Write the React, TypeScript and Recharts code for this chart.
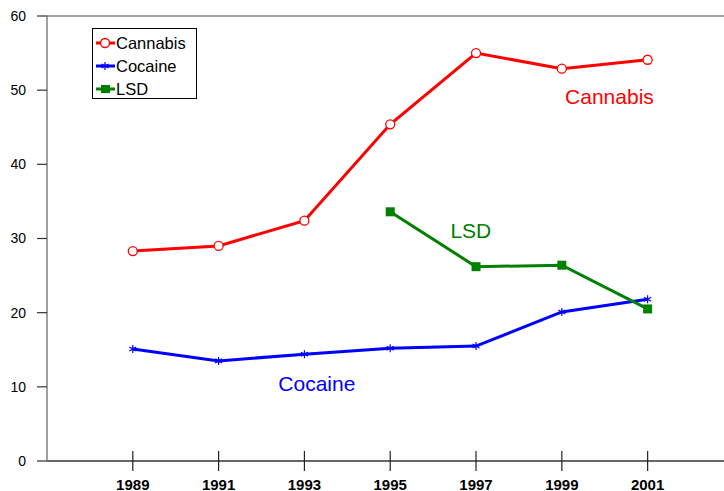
import { LineChart, Line, XAxis, YAxis, ReferenceLine, ReferenceDot, Legend } from "recharts";

const years = [1989, 1991, 1993, 1995, 1997, 1999, 2001];
const cannabis = [28.3, 29.0, 32.4, 45.4, 55.0, 52.9, 54.1];
const cocaine = [15.1, 13.5, 14.4, 15.2, 15.5, 20.1, 21.8];
const lsd: (number | null)[] = [null, null, null, 33.6, 26.2, 26.4, 20.5];
const yTicks = [0, 10, 20, 30, 40, 50, 60];

const data = years.map((year, i) => ({
  year,
  cannabis: cannabis[i],
  cocaine: cocaine[i],
  lsd: lsd[i],
}));

const RED = "#ff0000";
const BLUE = "#0000ff";
const GREEN = "#008000";
const FONT = "'Liberation Sans', Arial, sans-serif";

function CircleDot(props: any) {
  const { cx, cy } = props;
  if (cx == null || cy == null) return null;
  return <circle cx={cx} cy={cy} r={4.5} fill="#fff" stroke={RED} strokeWidth={1.3} />;
}

function StarDot(props: any) {
  const { cx, cy } = props;
  if (cx == null || cy == null) return null;
  const r = 4;
  return (
    <g stroke={BLUE} strokeWidth={1.2}>
      <line x1={cx} y1={cy - r} x2={cx} y2={cy + r} />
      <line x1={cx - r * 0.87} y1={cy - r / 2} x2={cx + r * 0.87} y2={cy + r / 2} />
      <line x1={cx - r * 0.87} y1={cy + r / 2} x2={cx + r * 0.87} y2={cy - r / 2} />
    </g>
  );
}

function SquareDot(props: any) {
  const { cx, cy } = props;
  if (cx == null || cy == null) return null;
  return <rect x={cx - 4.5} y={cy - 4.5} width={9} height={9} fill={GREEN} />;
}

function XTick(props: any) {
  const { x, y, payload } = props;
  return (
    <g>
      <line x1={x} x2={x} y1={y - 10} y2={y + 10} stroke="#222" strokeWidth={1.2} />
      <text x={x} y={y + 28.5} textAnchor="middle" fontWeight="bold" fontSize={15} fill="#000" fontFamily={FONT}>
        {payload.value}
      </text>
    </g>
  );
}

const legendItems = [
  { name: "Cannabis", color: RED, kind: "circle" },
  { name: "Cocaine", color: BLUE, kind: "star" },
  { name: "LSD", color: GREEN, kind: "square" },
];

function LegendBox() {
  return (
    <div
      style={{
        border: "1px solid #000",
        width: 105,
        height: 71,
        boxSizing: "border-box",
        background: "#fff",
        fontFamily: FONT,
        fontSize: 16.5,
        paddingTop: 2,
      }}
    >
      {legendItems.map((it) => (
        <div key={it.name} style={{ display: "flex", alignItems: "center", height: 23 }}>
          <svg width={22} height={12} style={{ marginLeft: 1 }}>
            <line x1={2} x2={21} y1={6} y2={6} stroke={it.color} strokeWidth={3} />
            {it.kind === "circle" && <circle cx={11} cy={6} r={4.5} fill="#fff" stroke={it.color} strokeWidth={1.3} />}
            {it.kind === "star" && (
              <g stroke={it.color} strokeWidth={1.2}>
                <line x1={11} y1={2} x2={11} y2={10} />
                <line x1={7.5} y1={4} x2={14.5} y2={8} />
                <line x1={7.5} y1={8} x2={14.5} y2={4} />
              </g>
            )}
            {it.kind === "square" && <rect x={7} y={2} width={9} height={8} fill={it.color} />}
          </svg>
          <span style={{ color: "#000", lineHeight: "16px" }}>{it.name}</span>
        </div>
      ))}
    </div>
  );
}

export default function App() {
  return (
    <div style={{ position: "absolute", left: 0, top: 0, width: 724, height: 491, overflow: "hidden", background: "#fff", fontFamily: FONT }}>
      <LineChart width={724} height={491} data={data} margin={{ top: 16, right: 0, left: 0, bottom: 0 }}>
        <XAxis
          dataKey="year"
          type="number"
          domain={[1987, 2002.78]}
          ticks={years}
          allowDataOverflow
          height={30}
          tickSize={0}
          tickMargin={0}
          tickLine={false}
          tick={<XTick />}
          axisLine={{ stroke: "#333", strokeWidth: 1.3 }}
        />
        <YAxis
          domain={[0, 60]}
          ticks={yTicks}
          width={47}
          tickSize={10}
          tickMargin={11}
          tick={{ fill: "#000", fontSize: 14, fontFamily: FONT }}
          tickLine={{ stroke: "#333", strokeWidth: 1.2 }}
          axisLine={{ stroke: "#808080", strokeWidth: 1.5 }}
        />
        <ReferenceLine y={60} stroke="#808080" strokeWidth={1.5} />
        <Legend
          layout="vertical"
          align="center"
          verticalAlign="middle"
          wrapperStyle={{ position: "absolute", left: 92, top: 28, width: 105, height: 71 }}
          content={() => <LegendBox />}
        />
        <Line
          dataKey="cannabis"
          name="Cannabis"
          stroke={RED}
          strokeWidth={3}
          dot={<CircleDot />}
          activeDot={false}
          isAnimationActive={false}
        />
        <Line
          dataKey="cocaine"
          name="Cocaine"
          stroke={BLUE}
          strokeWidth={3}
          dot={<StarDot />}
          activeDot={false}
          isAnimationActive={false}
        />
        <Line
          dataKey="lsd"
          name="LSD"
          stroke={GREEN}
          strokeWidth={3}
          dot={<SquareDot />}
          activeDot={false}
          isAnimationActive={false}
        />
        <ReferenceDot x={2000.11} y={49.1} r={0} fill="none" stroke="none"
          label={{ value: "Cannabis", position: "center", fill: RED, fontSize: 21, fontFamily: FONT }} />
        <ReferenceDot x={1996.88} y={31.1} r={0} fill="none" stroke="none"
          label={{ value: "LSD", position: "center", fill: GREEN, fontSize: 21, fontFamily: FONT }} />
        <ReferenceDot x={1993.29} y={10.5} r={0} fill="none" stroke="none"
          label={{ value: "Cocaine", position: "center", fill: BLUE, fontSize: 21, fontFamily: FONT }} />
      </LineChart>
    </div>
  );
}
